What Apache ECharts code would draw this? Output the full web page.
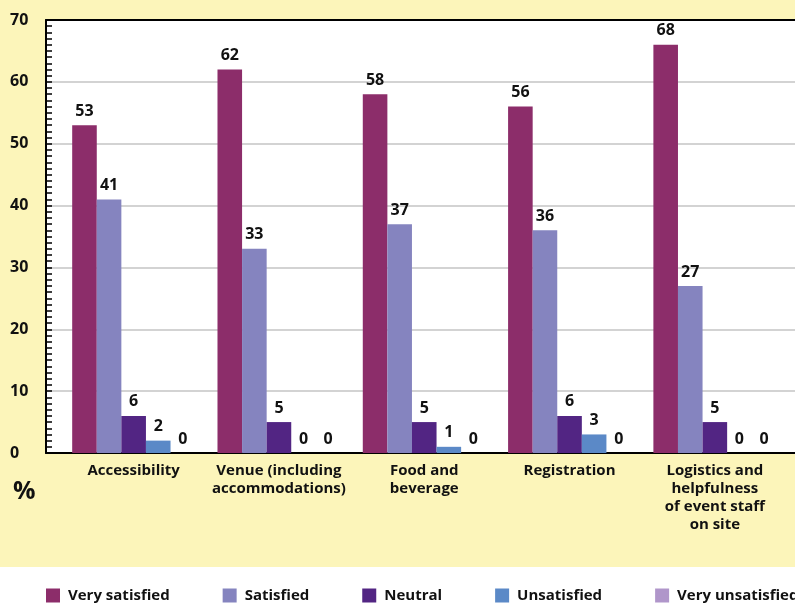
<!DOCTYPE html>
<html>
<head>
<meta charset="utf-8">
<script src="https://cdn.jsdelivr.net/npm/echarts@6/dist/echarts.min.js"></script>
<style>
html,body{margin:0;padding:0;width:795px;height:608px;overflow:hidden;background:#ffffff;}
#bg{position:absolute;left:0;top:0;width:795px;height:567px;background:#FCF5BA;}
#chart{position:absolute;left:0;top:0;width:795px;height:608px;}
</style>
</head>
<body>
<div id="bg"></div>
<div id="chart"></div>
<script>
const categories = ['Accessibility', 'Venue (including\naccommodations)', 'Food and\nbeverage', 'Registration', 'Logistics and\nhelpfulness\nof event staff\non site'];
const seriesNames = ['Very satisfied', 'Satisfied', 'Neutral', 'Unsatisfied', 'Very unsatisfied'];
const verySatisfied = [53, 62, 58, 56, 66];
const verySatisfiedLabels = ['53', '62', '58', '56', '68'];
const satisfied = [41, 33, 37, 36, 27];
const neutral = [6, 5, 5, 6, 5];
const unsatisfied = [2, 0, 1, 3, 0];
const veryUnsatisfied = [0, 0, 0, 0, 0];
const yTicks = [0, 10, 20, 30, 40, 50, 60, 70];

const colors = ['#8C2D6A', '#8584BF', '#522583', '#5B89C7', '#B096CA'];
const FONT = '"Open Sans", "DejaVu Sans", sans-serif';
const chart = echarts.init(document.getElementById('chart'), null, {renderer: 'canvas'});

function barSeries(idx, values, labels) {
  return {
    name: seriesNames[idx],
    type: 'bar',
    xAxisIndex: 2,
    yAxisIndex: 1,
    data: values,
    barGap: '0%',
    barCategoryGap: '15.4%',
    itemStyle: {color: colors[idx]},
    label: {
      show: true,
      position: 'top',
      distance: 6,
      fontFamily: FONT,
      fontWeight: 'bold',
      fontSize: 16,
      color: '#111',
      formatter: labels ? (p) => labels[p.dataIndex] : '{c}'
    }
  };
}

const option = {
  animation: false,
  backgroundColor: 'transparent',
  color: colors,
  title: {
    text: '%',
    left: 8,
    top: 474,
    textStyle: {fontFamily: FONT, fontWeight: 'bold', fontSize: 25, color: '#111'}
  },
  legend: {
    data: seriesNames,
    left: 46,
    top: 588,
    width: 2000,
    padding: 0,
    itemWidth: 14,
    itemHeight: 14,
    itemGap: 53,
    icon: 'rect',
    textStyle: {fontFamily: FONT, fontWeight: 'bold', fontSize: 15, color: '#111', padding: [0, 0, 0, 3]}
  },
  grid: [
    {left: 46, right: 0, top: 20, bottom: 155, show: true, backgroundColor: '#ffffff', borderWidth: 0},
    {left: 61, right: 7.5, top: 20, bottom: 155}
  ],
  xAxis: [
    {type: 'value', gridIndex: 0, position: 'bottom', min: 0, max: 1,
      axisLine: {show: true, onZero: false, lineStyle: {color: '#000', width: 2}},
      axisTick: {show: false}, axisLabel: {show: false}, splitLine: {show: false}},
    {type: 'value', gridIndex: 0, position: 'top', min: 0, max: 1,
      axisLine: {show: true, onZero: false, lineStyle: {color: '#000', width: 2}},
      axisTick: {show: false}, axisLabel: {show: false}, splitLine: {show: false}},
    {type: 'category', gridIndex: 1, data: categories,
      axisLine: {show: false}, axisTick: {show: false},
      axisLabel: {
        interval: 0, margin: 9, fontFamily: FONT, fontWeight: 'bold', fontSize: 15,
        lineHeight: 18, color: '#111', align: 'center'
      }}
  ],
  yAxis: [
    {type: 'value', gridIndex: 0, min: yTicks[0], max: yTicks[yTicks.length - 1], interval: 10,
      axisLine: {show: true, lineStyle: {color: '#000', width: 2}},
      axisTick: {show: true, inside: true, length: 6, lineStyle: {color: '#000', width: 1.5}},
      minorTick: {show: true, splitNumber: 10, length: 6, lineStyle: {color: '#000', width: 1.5}},
      axisLabel: {margin: 36, align: 'left', fontFamily: FONT, fontWeight: 'bold', fontSize: 16, color: '#111'},
      splitLine: {show: true, lineStyle: {color: '#D3D3D3', width: 2}}},
    {type: 'value', gridIndex: 1, min: yTicks[0], max: yTicks[yTicks.length - 1], interval: 10,
      show: false}
  ],
  series: [
    barSeries(0, verySatisfied, verySatisfiedLabels),
    barSeries(1, satisfied),
    barSeries(2, neutral),
    barSeries(3, unsatisfied),
    barSeries(4, veryUnsatisfied)
  ]
};
chart.setOption(option);
</script>
</body>
</html>
